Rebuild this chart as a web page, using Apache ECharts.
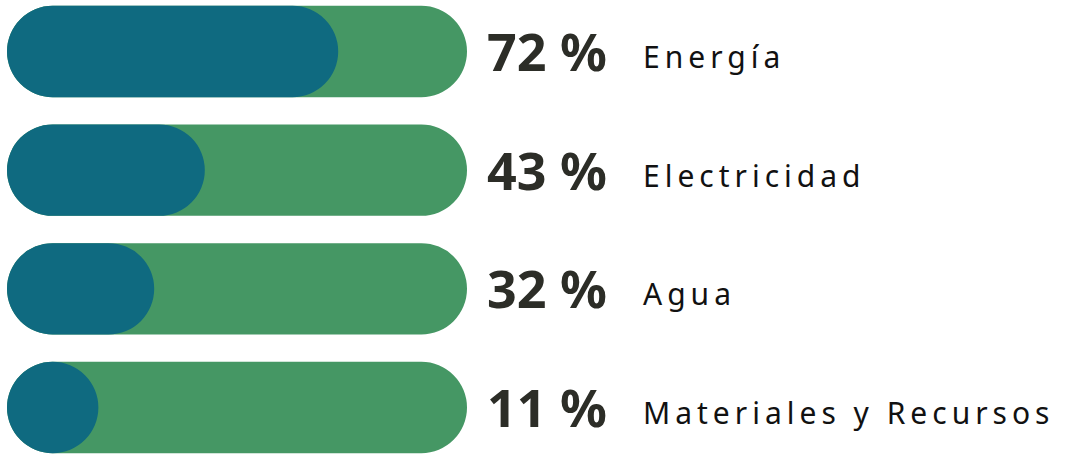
<!DOCTYPE html>
<html>
<head>
<meta charset="utf-8">
<style>
  html, body { margin: 0; padding: 0; background: #ffffff; }
  #chart { width: 1065px; height: 457px; }
  #chart svg text { letter-spacing: 5px; }
  #chart svg text[style*="bold"] { letter-spacing: 0px; }
</style>
<script src="https://cdn.jsdelivr.net/npm/echarts@6/dist/echarts.min.js"></script>
</head>
<body>
<div id="chart"></div>
<script>
// Data
const categories = ['Energía', 'Electricidad', 'Agua', 'Materiales y Recursos'];
const values = [72, 43, 32, 11];
const maxValue = 100;

const chart = echarts.init(document.getElementById('chart'), null, { renderer: 'svg' });

const BLUE = '#0f6a80';
const GREEN = '#459764';

function renderItem(params, api) {
  const idx = api.value(0);
  const v = api.value(1);
  const start = api.coord([0, idx]);
  const end = api.coord([maxValue, idx]);
  const valPt = api.coord([v, idx]);
  const band = api.size([0, 1])[1];
  const h = band * 0.77;
  const y = start[1] - h / 2;
  const r = h / 2;
  const fullW = end[0] - start[0];
  const blueW = Math.max(valPt[0] - start[0], h);
  return {
    type: 'group',
    children: [
      { type: 'rect', shape: { x: start[0], y: y, width: fullW, height: h, r: r }, style: { fill: GREEN } },
      { type: 'rect', shape: { x: start[0], y: y, width: blueW, height: h, r: r }, style: { fill: BLUE } },
      { type: 'text', x: end[0] + 20, y: start[1] - 1,
        style: { text: v + ' %', fill: '#2c2d27', font: 'bold 52px "Noto Sans"', textAlign: 'left', textVerticalAlign: 'middle' } },
      { type: 'text', x: end[0] + 176, y: start[1] + 5,
        style: { text: categories[idx], fill: '#111111', font: '30px "Noto Sans"', textAlign: 'left', textVerticalAlign: 'middle' } }
    ]
  };
}

chart.setOption({
  animation: false,
  grid: { left: 7, width: 460, top: 51.5, bottom: 49.5 },
  xAxis: { type: 'value', min: 0, max: maxValue, show: false },
  yAxis: { type: 'category', data: categories, inverse: true, boundaryGap: false, show: false },
  series: [{
    type: 'custom',
    renderItem: renderItem,
    encode: { x: 1, y: 0 },
    data: values.map((v, i) => [i, v]),
    clip: false
  }]
});
</script>
</body>
</html>
